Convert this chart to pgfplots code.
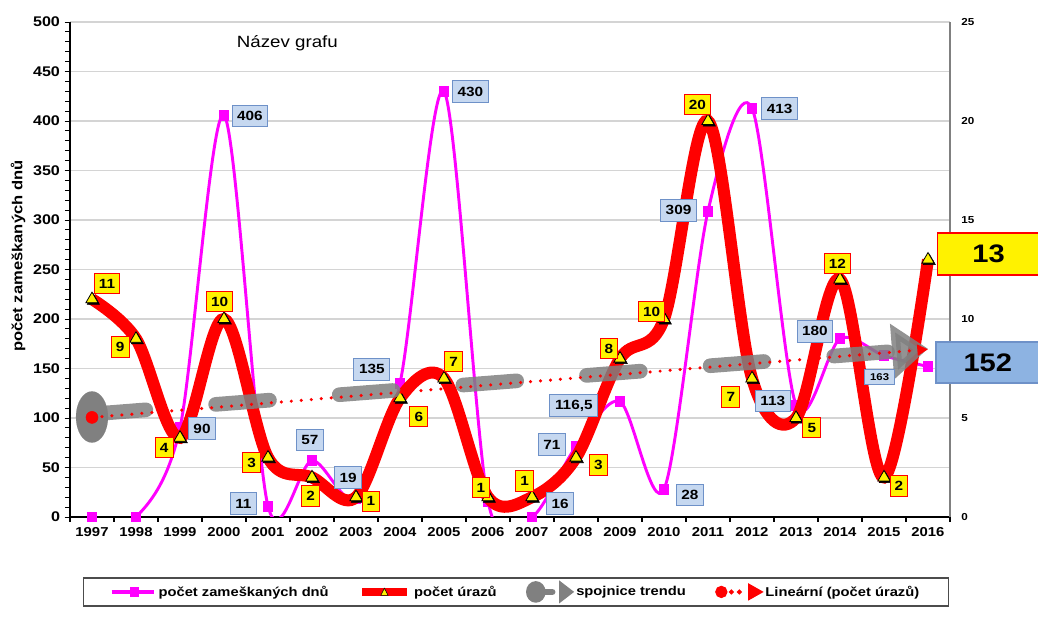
\documentclass[border=0pt]{standalone}
\usepackage{fontspec}
\setmainfont{Liberation Sans}[FakeStretch=1.15]
\usepackage{pgfplots}
\usepackage{pgfplotstable}
\pgfplotsset{compat=1.18}
\usetikzlibrary{arrows.meta}
\definecolor{mag}{RGB}{255,0,255}
\definecolor{lblue}{RGB}{198,216,240}
\definecolor{bborder}{RGB}{110,145,200}
\definecolor{bigblue}{RGB}{141,179,226}
\definecolor{gridc}{RGB}{212,212,212}
\definecolor{trendgray}{RGB}{128,128,128}

\pgfplotstableread{
x y
1997 0
1998 0
1999 90
2000 406
2001 11
2002 57
2003 19
2004 135
2005 430
2006 16
2007 0
2008 71
2009 116.5
2010 28
2011 309
2012 413
2013 113
2014 180
2015 163
2016 152
}\dny

\pgfplotstableread{
x y
1997 11
1998 9
1999 4
2000 10
2001 3
2002 2
2003 1
2004 6
2005 7
2006 1
2007 1
2008 3
2009 8
2010 10
2011 20
2012 7
2013 5
2014 12
2015 2
2016 13
}\urazy

\begin{document}
\begin{tikzpicture}[
  bl/.style={fill=lblue, draw=bborder, line width=0.75pt, font=\bfseries\fontsize{10}{11}\selectfont, text height=7.2pt, text depth=0pt, inner xsep=3.8pt, inner ysep=4.6pt},
  yl/.style={fill=yellow, draw=red, line width=0.75pt, font=\bfseries\fontsize{10}{11}\selectfont, text height=7.2pt, text depth=0pt, inner xsep=3.5pt, inner ysep=4pt}
]
\useasboundingbox (0,0) rectangle (778.5pt,462.75pt);

\begin{axis}[
  at={(52.5pt,75pt)}, anchor=south west,
  scale only axis, width=660pt, height=371.25pt,
  xmin=1996.5, xmax=2016.5, ymin=0, ymax=500,
  axis x line*=bottom, axis y line*=left,
  axis line style={-, black, line width=1.2pt},
  x axis line style={line width=1.6pt},
  xtick={1997,...,2016}, minor xtick={1996.5,1997.5,...,2016.5},
  ytick={0,50,...,500}, minor ytick={0,10,...,500},
  ymajorgrids, major grid style={gridc, line width=1pt},
  tick align=outside, major tick length=4pt, minor tick length=3.5pt,
  major x tick style={draw=none},
  minor x tick style={black, line width=0.8pt},
  y tick style={black, line width=0.7pt},
  xticklabel style={font=\bfseries\fontsize{9.7}{11}\selectfont},
  yticklabel style={font=\bfseries\fontsize{10.5}{12}\selectfont},
  /pgf/number format/assume math mode=true,
  /pgf/number format/1000 sep={},
  ylabel={počet zameškaných dnů},
  ylabel style={at={(axis description cs:-0.059,0.527)}, anchor=center, font=\bfseries\fontsize{10.8}{12}\selectfont},
  clip mode=individual,
]
\addplot[mag, line width=2.2pt, smooth, tension=0.5, mark=square*, mark size=3pt, mark options={solid}] table {\dny};
\node[font=\fontsize{12.2}{14}\selectfont] at (axis description cs:0.247,0.958) {Název grafu};
\end{axis}

\begin{axis}[
  at={(52.5pt,75pt)}, anchor=south west,
  scale only axis, width=660pt, height=371.25pt,
  xmin=1996.5, xmax=2016.5, ymin=0, ymax=25,
  axis x line=none, axis y line*=right,
  y axis line style={-, black!50, line width=0.8pt},
  ytick={0,5,...,25}, major tick length=0pt,
  yticklabel style={font=\bfseries\fontsize{7.6}{9}\selectfont, xshift=5pt},
  /pgf/number format/assume math mode=true,
  clip mode=individual,
  legend columns=4,
  legend style={at={(0.5068,-0.1212)}, anchor=north, draw=black!70, line width=1.2pt, fill=white,
    font=\bfseries\fontsize{9.6}{11}\selectfont, inner xsep=20pt, inner ysep=2.5pt,
    /tikz/every even column/.append style={column sep=20pt}},
]
\addplot[red, line width=9pt, smooth, tension=0.55, forget plot] table {\urazy};
\addplot[black, only marks, mark=triangle*, mark size=5.3pt, mark options={fill=black, draw=black, xshift=1pt, yshift=-1.2pt}, forget plot] table {\urazy};
\addplot[black, only marks, mark=triangle*, mark size=5.3pt, mark options={fill=yellow, draw=black, line width=0.6pt}, forget plot] table {\urazy};

% trend (gray)
\addplot[trendgray, only marks, mark=*, mark size=12pt, mark options={yscale=1.6, fill=trendgray, draw=trendgray, line width=0.1pt}, forget plot] coordinates {(1997,5.05)};
\addplot[trendgray, opacity=0.85, line width=11pt, line cap=round, dash pattern=on 40.5pt off 52.5pt, -{Triangle[length=27pt,width=40pt]}, forget plot] coordinates {(1997,5.2) (2016,8.5)};

% linear trend (red dotted)
\addplot[red, line width=2.6pt, line cap=round, dash pattern=on 0pt off 7.5pt, -{Triangle[length=8pt,width=8pt]}, forget plot] coordinates {(1997,5.03) (2016,8.47)};
\addplot[red, only marks, mark=*, mark size=4.5pt, mark options={fill=red, draw=red}, forget plot] coordinates {(1997,5.03)};

% legend
\addlegendimage{legend image code/.code={
  \draw[mag, line width=2.4pt] (0pt,0pt) -- (32pt,0pt);
  \fill[mag] (14pt,-3pt) rectangle (20pt,3pt);
}}
\addlegendentry{počet zameškaných dnů}
\addlegendimage{legend image code/.code={
  \draw[red, line width=6pt] (0pt,0pt) -- (34pt,0pt);
  \draw[fill=yellow, draw=black, line width=0.4pt] (14pt,-2.6pt) -- (19.5pt,-2.6pt) -- (16.75pt,2.8pt) -- cycle;
}}
\addlegendentry{počet úrazů}
\addlegendimage{legend image code/.code={
  \fill[trendgray] (6.75pt,0pt) ellipse (6.75pt and 7.5pt);
  \draw[trendgray, line width=5pt, line cap=round] (6.75pt,0pt) -- (19pt,0pt);
  \fill[trendgray] (24.75pt,-7.5pt) -- (34.5pt,0pt) -- (24.75pt,7.5pt) -- cycle;
}}
\addlegendentry{spojnice trendu}
\addlegendimage{legend image code/.code={
  \fill[red] (4pt,0pt) circle (4pt);
  \fill[red] (11.5pt,0pt) circle (1.2pt);
  \fill[red] (17.5pt,0pt) circle (1.2pt);
  \fill[red] (24.75pt,-5.5pt) -- (34.5pt,0pt) -- (24.75pt,5.5pt) -- cycle;
}}
\addlegendentry{Lineární (počet úrazů)}

% labels: days (blue)
\node[bl] at (axis cs:1999.5,4.47) {90};
\node[bl] at (axis cs:2000.59,20.25) {406};
\node[bl] at (axis cs:2000.44,0.66) {11};
\node[bl] at (axis cs:2001.95,3.89) {57};
\node[bl] at (axis cs:2002.82,2.0) {19};
\node[bl] at (axis cs:2003.36,7.47) {135};
\node[bl] at (axis cs:2005.6,21.47) {430};
\node[bl] at (axis cs:2007.64,0.66) {16};
\node[bl] at (axis cs:2007.45,3.65) {71};
\node[bl] at (axis cs:2007.95,5.65) {116,5};
\node[bl] at (axis cs:2010.59,1.11) {28};
\node[bl] at (axis cs:2010.33,15.5) {309};
\node[bl] at (axis cs:2012.63,20.63) {413};
\node[bl] at (axis cs:2012.47,5.86) {113};
\node[bl] at (axis cs:2013.43,9.39) {180};
\node[bl, font=\bfseries\fontsize{7.4}{8}\selectfont, text height=5.4pt, inner ysep=3pt, inner xsep=4pt] at (axis cs:2014.9,7.07) {163};
\node[fill=bigblue, draw=bborder, line width=1pt, minimum width=78pt, minimum height=30.75pt, font=\bfseries\fontsize{19}{21}\selectfont] at (axis cs:2017.36,7.8) {152};

% labels: injuries (yellow)
\node[yl] at (axis cs:1997.34,11.8) {11};
\node[yl] at (axis cs:1997.64,8.59) {9};
\node[yl] at (axis cs:1998.64,3.51) {4};
\node[yl] at (axis cs:1999.9,10.88) {10};
\node[yl] at (axis cs:2000.63,2.75) {3};
\node[yl] at (axis cs:2001.97,1.06) {2};
\node[yl] at (axis cs:2003.34,0.8) {1};
\node[yl] at (axis cs:2004.43,5.08) {6};
\node[yl] at (axis cs:2005.22,7.85) {7};
\node[yl] at (axis cs:2005.84,1.49) {1};
\node[yl] at (axis cs:2006.83,1.82) {1};
\node[yl] at (axis cs:2008.51,2.63) {3};
\node[yl] at (axis cs:2008.75,8.51) {8};
\node[yl] at (axis cs:2009.72,10.38) {10};
\node[yl] at (axis cs:2010.76,20.83) {20};
\node[yl] at (axis cs:2011.52,6.06) {7};
\node[yl] at (axis cs:2013.36,4.52) {5};
\node[yl] at (axis cs:2013.94,12.8) {12};
\node[yl] at (axis cs:2015.34,1.57) {2};
\node[fill=yellow, draw=red, line width=1pt, minimum width=77pt, minimum height=31.5pt, font=\bfseries\fontsize{19}{21}\selectfont] at (axis cs:2017.375,13.28) {13};
\end{axis}
\end{tikzpicture}
\end{document}
